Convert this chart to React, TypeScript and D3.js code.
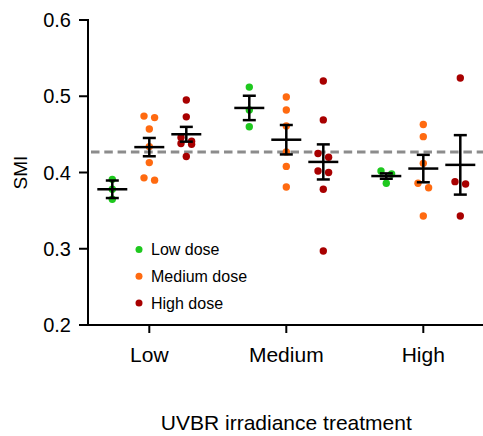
import React from "react";
import * as d3 from "d3";

const categories = ["Low", "Medium", "High"];
const doses = ["Low dose", "Medium dose", "High dose"];
const doseColors = ["#1ec81e", "#ff6a10", "#a80000"];
const yTicks = [0.2, 0.3, 0.4, 0.5, 0.6];
const controlSMI = 0.427;

// SMI values per UVBR treatment, per dose
const lowUVBR_lowDose = [0.391, 0.378, 0.365];
const lowUVBR_mediumDose = [0.472, 0.474, 0.457, 0.434, 0.413, 0.39, 0.393];
const lowUVBR_highDose = [0.495, 0.473, 0.446, 0.441, 0.438, 0.437, 0.421];
const mediumUVBR_lowDose = [0.512, 0.482, 0.46];
const mediumUVBR_mediumDose = [0.499, 0.482, 0.461, 0.427, 0.408, 0.381];
const mediumUVBR_highDose = [0.52, 0.469, 0.42, 0.425, 0.4, 0.402, 0.378, 0.297];
const highUVBR_lowDose = [0.402, 0.398, 0.386];
const highUVBR_mediumDose = [0.463, 0.447, 0.412, 0.386, 0.38, 0.343];
const highUVBR_highDose = [0.524, 0.388, 0.385, 0.343];

// standard errors
const semLowUVBR = [0.0115, 0.012, 0.0097];
const semMediumUVBR = [0.016, 0.0193, 0.023];
const semHighUVBR = [0.0035, 0.018, 0.039];

const groups = [
  { cat: "Low", series: [lowUVBR_lowDose, lowUVBR_mediumDose, lowUVBR_highDose], sem: semLowUVBR },
  { cat: "Medium", series: [mediumUVBR_lowDose, mediumUVBR_mediumDose, mediumUVBR_highDose], sem: semMediumUVBR },
  { cat: "High", series: [highUVBR_lowDose, highUVBR_mediumDose, highUVBR_highDose], sem: semHighUVBR },
];

const W = 483;
const H = 436;
const axisX = 88;
const axisBottom = 325;
const axisTop = 20;
const FONT = "'Liberation Sans', Arial, Helvetica, sans-serif";

export default function App() {
  const y = d3.scaleLinear().domain([0.2, 0.6]).range([axisBottom, axisTop]);
  const x = d3.scalePoint<string>().domain(categories).range([149.3, 423.3]);
  const xDose = d3.scalePoint<string>().domain(doses).range([-37, 37]);
  const r = 3.7;
  const step = 10.6;

  const swarm = (vals: number[]) => {
    const pts = vals.map((v) => ({ v, py: y(v), dx: 0 }));
    const sorted = [...pts].sort((a, b) => a.py - b.py);
    const rows: typeof pts[] = [];
    let cur: typeof pts = [];
    sorted.forEach((p) => {
      if (cur.length && p.py - cur[0].py > 5) {
        rows.push(cur);
        cur = [];
      }
      cur.push(p);
    });
    if (cur.length) rows.push(cur);
    rows.forEach((row) => row.forEach((p, i) => (p.dx = (i - (row.length - 1) / 2) * step)));
    return pts;
  };

  return (
    <svg width={W} height={H} style={{ position: "absolute", left: 0, top: 0, fontFamily: FONT }}>
      <rect width={W} height={H} fill="#fff" />
      {/* control reference line */}
      <line x1={axisX + 3} x2={W} y1={y(controlSMI)} y2={y(controlSMI)} stroke="#8c8c8c" strokeWidth={3} strokeDasharray="8.5,4.8" />

      {/* points */}
      {groups.map((g) =>
        g.series.map((vals, di) => {
          const cx = (x(g.cat) as number) + (xDose(doses[di]) as number);
          return swarm(vals).map((p, k) => (
            <circle key={`${g.cat}-${di}-${k}`} cx={cx + p.dx} cy={p.py} r={r} fill={doseColors[di]} />
          ));
        })
      )}

      {/* mean and SEM bars */}
      {groups.map((g) =>
        g.series.map((vals, di) => {
          const cx = (x(g.cat) as number) + (xDose(doses[di]) as number);
          const m = d3.mean(vals) as number;
          const s = g.sem[di];
          return (
            <g key={`eb-${g.cat}-${di}`} stroke="#000" strokeWidth={2.5}>
              <line x1={cx - 15} x2={cx + 15} y1={y(m)} y2={y(m)} />
              <line x1={cx} x2={cx} y1={y(m + s)} y2={y(m - s)} />
              <line x1={cx - 6.5} x2={cx + 6.5} y1={y(m + s)} y2={y(m + s)} />
              <line x1={cx - 6.5} x2={cx + 6.5} y1={y(m - s)} y2={y(m - s)} />
            </g>
          );
        })
      )}

      {/* y axis */}
      <line x1={axisX} x2={axisX} y1={axisTop - 1} y2={axisBottom + 1} stroke="#000" strokeWidth={2} />
      {yTicks.map((t) => (
        <g key={t}>
          <line x1={axisX - 9} x2={axisX} y1={y(t)} y2={y(t)} stroke="#000" strokeWidth={2} />
          <text x={axisX - 17} y={y(t)} dy="0.36em" textAnchor="end" fontSize={20} fill="#000">
            {d3.format(".1f")(t)}
          </text>
        </g>
      ))}
      <text transform={`translate(27, ${(axisTop + axisBottom) / 2}) rotate(-90)`} textAnchor="middle" fontSize={19} fill="#000">
        SMI
      </text>

      {/* x axis */}
      <line x1={axisX - 1} x2={W} y1={axisBottom} y2={axisBottom} stroke="#000" strokeWidth={2} />
      {categories.map((c) => (
        <g key={c}>
          <line x1={x(c)} x2={x(c)} y1={axisBottom} y2={axisBottom + 8} stroke="#000" strokeWidth={2} />
          <text x={x(c)} y={362} textAnchor="middle" fontSize={21} fill="#000">
            {c}
          </text>
        </g>
      ))}
      <text x={x("Medium")} y={430} textAnchor="middle" fontSize={21} fill="#000">
        UVBR irradiance treatment
      </text>

      {/* legend */}
      {doses.map((d, i) => (
        <g key={d}>
          <circle cx={139} cy={249.5 + i * 26.7} r={3.5} fill={doseColors[i]} />
          <text x={151} y={249.5 + i * 26.7} dy="0.35em" fontSize={16} fill="#000">
            {d}
          </text>
        </g>
      ))}
    </svg>
  );
}
